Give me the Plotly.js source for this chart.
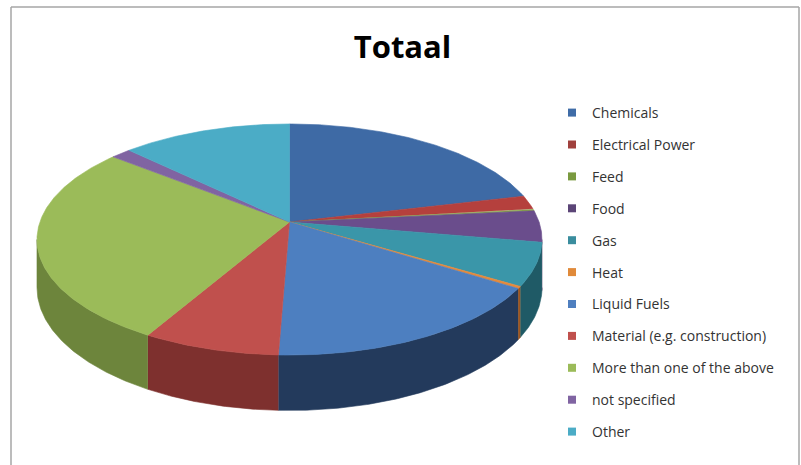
<!DOCTYPE html>
<html><head><meta charset="utf-8">
<script src="https://cdn.plot.ly/plotly-3.0.1.min.js"></script>
<style>html,body{margin:0;padding:0;background:#fff}</style>
</head><body><div id="chart" style="width:801px;height:465px"></div>
<script>
// ---- data (shares, %) ----
const categories = ["Chemicals","Electrical Power","Feed","Food","Gas","Heat","Liquid Fuels","Material (e.g. construction)","More than one of the above","not specified","Other"];
const values = [21.2, 1.9, 0.3, 4.4, 6.0, 0.3, 16.5, 7.6, 27.7, 1.5, 12.6];

// ---- styles ----
const topColors    = ["#3E6AA5","#B5403D","#86A348","#6A4D8C","#3A96A9","#E58A3C","#4D7FC0","#C0504D","#9BBB59","#8064A2","#4BACC6"];
const sideColors   = ["#24406A","#742A28","#5F7530","#3F2E57","#1F5A66","#9C5520","#233A5C","#7E302E","#6D853C","#54406E","#2C7286"];
const legendColors = ["#3F6CA7","#A0403D","#7A9A40","#5B4577","#3A8D9E","#E08A3A","#4F7FBF","#C0504D","#9BBB59","#8064A2","#4BACC6"];

// ---- pseudo-3D projection (layout geometry, pixels) ----
const CX = 289.5, CY = 222, A = 249.6, B = 112.9, K = 0.1515, DEPTH = 47;
function proj(theta, drop) {
  const r = theta * Math.PI / 180;
  const u = Math.sin(r), v = -Math.cos(r);
  const f = 1 / (1 - K * v);
  return [CX + A * u * f, CY + (B * v + drop) * f];
}
function arc(a1, a2, drop) {
  const pts = [];
  const n = Math.max(2, Math.ceil(Math.abs(a2 - a1) / 0.5));
  for (let i = 0; i <= n; i++) pts.push(proj(a1 + (a2 - a1) * i / n, drop));
  return pts;
}
const total = values.reduce((s, v) => s + v, 0);
const silL = Math.acos(-K) * 180 / Math.PI, silR = 360 - silL;

const sideTraces = [], topTraces = [], legendTraces = [];
let cum = 0;
values.forEach((val, i) => {
  const a1 = cum / total * 360;
  cum += val;
  const a2 = cum / total * 360;
  // side wall
  const s1 = Math.max(a1, silL), s2 = Math.min(a2, silR);
  if (s1 < s2) {
    const pts = arc(s1, s2, 0).concat(arc(s2, s1, DEPTH));
    sideTraces.push({
      type: "scatter", mode: "lines", x: pts.map(p => p[0]), y: pts.map(p => p[1]),
      fill: "toself", fillcolor: sideColors[i], line: {width: 0.6, color: sideColors[i]},
      showlegend: false, hoverinfo: "skip", legendgroup: "g" + i
    });
  }
  // top face
  const tp = [[CX, CY]].concat(arc(a1, a2, 0)).concat([[CX, CY]]);
  topTraces.push({
    type: "scatter", mode: "lines", x: tp.map(p => p[0]), y: tp.map(p => p[1]),
    fill: "toself", fillcolor: topColors[i], line: {width: 0.6, color: topColors[i]},
    showlegend: false, name: categories[i], hoverinfo: "name", legendgroup: "g" + i
  });
  legendTraces.push({
    type: "scatter", mode: "markers", x: [-100], y: [-100], name: categories[i],
    marker: {symbol: "square", size: 8, color: legendColors[i]},
    legendgroup: "g" + i, showlegend: true, hoverinfo: "skip"
  });
});

const layout = {
  width: 801, height: 465,
  margin: {l: 0, r: 0, t: 0, b: 0},
  paper_bgcolor: "#ffffff", plot_bgcolor: "#ffffff",
  font: {family: "'Open Sans', Lato, sans-serif", color: "#333333", size: 14},
  title: {text: "<b>Totaal</b>", font: {family: "'Open Sans', sans-serif", size: 31, color: "#000000"},
          x: 402.5 / 801, xanchor: "center", y: 1 - 47 / 465, yanchor: "middle", xref: "paper", yref: "container"},
  xaxis: {range: [0, 801], visible: false, fixedrange: true},
  yaxis: {range: [465, 0], visible: false, fixedrange: true},
  showlegend: true,
  legend: {x: 552 / 801, xanchor: "left", y: 1 - 97 / 465, yanchor: "top",
           tracegroupgap: 10.7, font: {size: 14, color: "#333333"}, bgcolor: "rgba(0,0,0,0)"},
  shapes: [
    {type: "line", xref: "paper", yref: "paper", x0: 11 / 801, x1: 11 / 801, y0: 0, y1: 1 - 7 / 465, line: {color: "#A6A6A6", width: 1.5}},
    {type: "line", xref: "paper", yref: "paper", x0: 11 / 801, x1: 799 / 801, y0: 1 - 7 / 465, y1: 1 - 7 / 465, line: {color: "#A6A6A6", width: 1.5}},
    {type: "line", xref: "paper", yref: "paper", x0: 799 / 801, x1: 799 / 801, y0: 0, y1: 1 - 7 / 465, line: {color: "#A6A6A6", width: 1.5}}
  ]
};

Plotly.newPlot("chart", sideTraces.concat(topTraces).concat(legendTraces), layout, {displayModeBar: false, staticPlot: true});
</script></body></html>
